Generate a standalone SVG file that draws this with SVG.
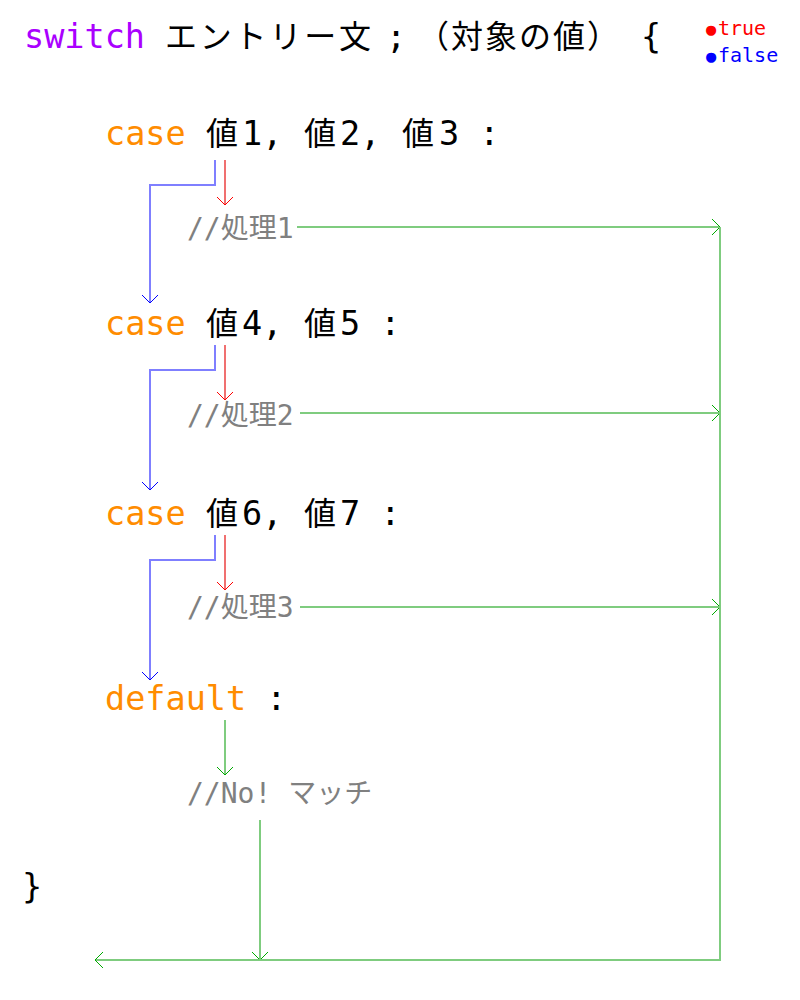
<svg xmlns="http://www.w3.org/2000/svg" width="800" height="1000" viewBox="0 0 800 1000">
<style>
text{font-family:"DejaVu Sans Mono","Noto Sans CJK JP",monospace;}
.big{font-size:33.5px;fill:#000;}
.j{font-family:"Noto Sans CJK JP",sans-serif;font-size:32px;}
.kw{fill:#ff8c00;}
.sw{fill:#aa00ff;}
.cm{font-size:28px;fill:#808080;}
.leg{font-size:20px;}
.dot{font-size:17px;}
.b{fill:none;stroke:#7f7fff;stroke-width:2;}
.r{fill:none;stroke:#f07070;stroke-width:2;}
.g{fill:none;stroke:#7fcc7f;stroke-width:2;}
</style>
<defs>
<marker id="ab" viewBox="-1 -9 10 18" refX="8" refY="0" markerWidth="10" markerHeight="18" markerUnits="userSpaceOnUse" orient="auto"><path d="M0,-8 L8,0 L0,8" fill="none" stroke="#0000ff" stroke-width="1"/></marker>
<marker id="ar" viewBox="-1 -9 10 18" refX="8" refY="0" markerWidth="10" markerHeight="18" markerUnits="userSpaceOnUse" orient="auto"><path d="M0,-8 L8,0 L0,8" fill="none" stroke="#ff0000" stroke-width="1"/></marker>
<marker id="ag" viewBox="-1 -9 10 18" refX="8" refY="0" markerWidth="10" markerHeight="18" markerUnits="userSpaceOnUse" orient="auto"><path d="M0,-8 L8,0 L0,8" fill="none" stroke="#00aa00" stroke-width="1"/></marker>
</defs>
<g id="header">
<text class="big" y="48"><tspan class="sw" x="24">switch</tspan><tspan class="j" x="165" letter-spacing="2.8">エントリー文</tspan><tspan x="386">;</tspan><tspan class="j" x="417" letter-spacing="2">（対象の値）</tspan><tspan x="641">{</tspan></text>
</g>
<g id="legend">
<text class="leg" y="35" fill="#ff0000"><tspan class="dot" x="706">●</tspan><tspan x="718">true</tspan></text>
<text class="leg" y="62" fill="#0000ff"><tspan class="dot" x="706">●</tspan><tspan x="718">false</tspan></text>
</g>
<g id="case1"><text class="big" y="145"><tspan class="kw" x="105">case</tspan><tspan class="j" x="206">値</tspan><tspan x="242">1, </tspan><tspan class="j" x="304">値</tspan><tspan x="340">2, </tspan><tspan class="j" x="402">値</tspan><tspan x="439">3 :</tspan></text></g>
<g id="proc1"><text class="cm" x="187" y="238">//処理1</text></g>
<g id="case2"><text class="big" y="335"><tspan class="kw" x="105">case</tspan><tspan class="j" x="206">値</tspan><tspan x="242">4, </tspan><tspan class="j" x="304">値</tspan><tspan x="340">5 :</tspan></text></g>
<g id="proc2"><text class="cm" x="187" y="425">//処理2</text></g>
<g id="case3"><text class="big" y="525"><tspan class="kw" x="105">case</tspan><tspan class="j" x="206">値</tspan><tspan x="242">6, </tspan><tspan class="j" x="304">値</tspan><tspan x="340">7 :</tspan></text></g>
<g id="proc3"><text class="cm" x="187" y="617">//処理3</text></g>
<g id="default"><text class="big" x="105" y="710"><tspan class="kw">default</tspan> :</text></g>
<g id="nomatch"><text class="cm" x="187" y="803">//No! マッチ</text></g>
<g id="close"><text class="big" x="22" y="898">}</text></g>
<g id="connectors">
<path class="b" d="M215,160 V185 H150 V303" marker-end="url(#ab)"/>
<path class="r" d="M225,160 V205" marker-end="url(#ar)"/>
<path class="g" d="M297,227 H720" marker-end="url(#ag)"/>
<path class="b" d="M215,345 V370 H150 V490" marker-end="url(#ab)"/>
<path class="r" d="M225,345 V400" marker-end="url(#ar)"/>
<path class="g" d="M300,413 H720" marker-end="url(#ag)"/>
<path class="b" d="M215,535 V560 H150 V680" marker-end="url(#ab)"/>
<path class="r" d="M225,535 V590" marker-end="url(#ar)"/>
<path class="g" d="M300,607 H720" marker-end="url(#ag)"/>
<path class="g" d="M225,720 V775" marker-end="url(#ag)"/>
<path class="g" d="M260,820 V960" marker-end="url(#ag)"/>
<path class="g" d="M720,227 V960 H95" marker-end="url(#ag)"/>
</g>
</svg>
